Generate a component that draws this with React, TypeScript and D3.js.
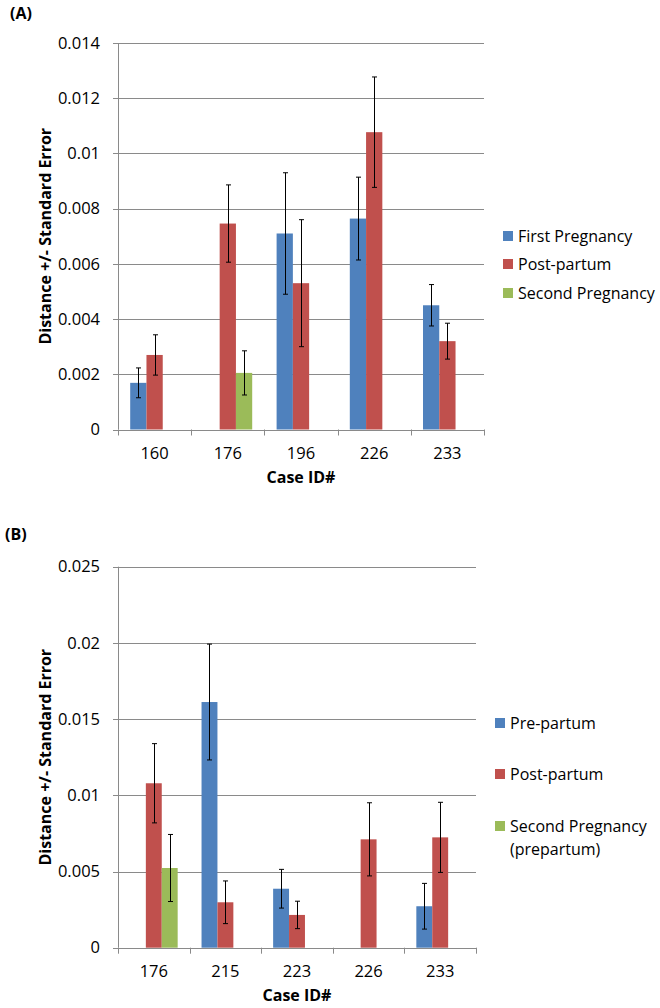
import React from "react";
import * as d3 from "d3";

// ---------- Data ----------
const casesA = ["160", "176", "196", "226", "233"];
const seriesA = ["First Pregnancy", "Post-partum", "Second Pregnancy"];
const firstPregA = [0.00169, null, 0.0071, 0.00764, 0.0045];
const firstPregErrA = [0.00054, null, 0.0022, 0.0015, 0.00075];
const postPartumA = [0.0027, 0.00746, 0.0053, 0.01077, 0.0032];
const postPartumErrA = [0.00073, 0.0014, 0.0023, 0.002, 0.00065];
const secondPregA = [null, 0.00205, null, null, null];
const secondPregErrA = [null, 0.0008, null, null, null];
const ticksA = [0, 0.002, 0.004, 0.006, 0.008, 0.01, 0.012, 0.014];

const casesB = ["176", "215", "223", "226", "233"];
const seriesB = ["Pre-partum", "Post-partum", "Second Pregnancy|(prepartum)"];
const prePartumB = [null, 0.01612, 0.00387, null, 0.00272];
const prePartumErrB = [null, 0.0038, 0.00127, null, 0.0015];
const postPartumB = [0.01079, 0.00298, 0.00215, 0.00711, 0.00724];
const postPartumErrB = [0.0026, 0.0014, 0.0009, 0.0024, 0.0023];
const secondPregB = [0.00523, null, null, null, null];
const secondPregErrB = [0.0022, null, null, null, null];
const ticksB = [0, 0.005, 0.01, 0.015, 0.02, 0.025];

const colors = ["#4F81BD", "#C0504D", "#9BBB59"];
const FONT = "'Open Sans', 'Liberation Sans', sans-serif";
const GRID = "#8a8a8a";

type PanelProps = {
  label: string;
  labelX: number;
  labelY: number;
  cases: string[];
  series: string[];
  values: (number | null)[][];
  errs: (number | null)[][];
  ticks: number[];
  left: number;
  right: number;
  top: number;
  bottom: number;
  legendX: number;
  legendRows: number[];
};

function Panel(p: PanelProps) {
  const y = d3.scaleLinear().domain([0, p.ticks[p.ticks.length - 1]]).range([p.bottom, p.top]);
  const x0 = d3.scaleBand().domain(p.cases).range([p.left, p.right]).padding(0);
  const bw = x0.bandwidth();
  const barW = bw / 4.5;
  const x1 = d3
    .scaleBand()
    .domain(p.series)
    .range([(bw - 3 * barW) / 2, (bw + 3 * barW) / 2])
    .padding(0);
  const cap = 2.5;
  return (
    <g>
      <text x={p.labelX} y={p.labelY} fontFamily={FONT} fontWeight="bold" fontSize={16} fill="#000">
        {p.label}
      </text>
      {/* gridlines */}
      {p.ticks.map((t, i) => (
        <g key={"g" + i}>
          {i > 0 && (
            <line x1={p.left} x2={p.right} y1={Math.round(y(t)) + 0.5} y2={Math.round(y(t)) + 0.5} stroke={GRID} strokeWidth={1} />
          )}
          <line x1={p.left - 5} x2={p.left} y1={Math.round(y(t)) + 0.5} y2={Math.round(y(t)) + 0.5} stroke={GRID} strokeWidth={1} />
          <text x={p.left - 18} y={y(t)} dy="0.35em" textAnchor="end" fontFamily={FONT} fontSize={16.5} fill="#000">
            {String(t)}
          </text>
        </g>
      ))}
      {/* bars */}
      {p.values.map((vals, si) =>
        vals.map((v, ci) =>
          v == null ? null : (
            <rect
              key={`b${si}-${ci}`}
              x={(x0(p.cases[ci]) as number) + (x1(p.series[si]) as number)}
              y={y(v)}
              width={barW}
              height={p.bottom - y(v)}
              fill={colors[si]}
            />
          )
        )
      )}
      {/* error bars */}
      {p.values.map((vals, si) =>
        vals.map((v, ci) => {
          const e = p.errs[si][ci];
          if (v == null || e == null) return null;
          const cx = Math.round((x0(p.cases[ci]) as number) + (x1(p.series[si]) as number) + barW / 2) + 0.5;
          const yt = y(v + e);
          const yb = y(v - e);
          return (
            <g key={`e${si}-${ci}`} stroke="#000" strokeWidth={1}>
              <line x1={cx} x2={cx} y1={yt} y2={yb} />
              <line x1={cx - cap} x2={cx + cap} y1={yt} y2={yt} />
              <line x1={cx - cap} x2={cx + cap} y1={yb} y2={yb} />
            </g>
          );
        })
      )}
      {/* axes */}
      <line x1={p.left + 0.5} x2={p.left + 0.5} y1={p.top} y2={p.bottom} stroke={GRID} strokeWidth={1} />
      <line x1={p.left} x2={p.right} y1={Math.round(p.bottom) + 0.5} y2={Math.round(p.bottom) + 0.5} stroke={GRID} strokeWidth={1} />
      {[p.left, ...p.cases.map((c) => (x0(c) as number) + bw)].map((xx, i) => (
        <line key={"t" + i} x1={Math.round(xx) + 0.5} x2={Math.round(xx) + 0.5} y1={p.bottom} y2={p.bottom + 6} stroke={GRID} strokeWidth={1} />
      ))}
      {p.cases.map((c) => (
        <text key={"xl" + c} x={(x0(c) as number) + bw / 2} y={p.bottom + 24} dy="0.35em" textAnchor="middle" fontFamily={FONT} fontSize={16.5} fill="#000">
          {c}
        </text>
      ))}
      <text x={(p.left + p.right) / 2} y={p.bottom + 48} dy="0.35em" textAnchor="middle" fontFamily={FONT} fontWeight="bold" fontSize={16} fill="#000">
        Case ID#
      </text>
      <text
        transform={`translate(45,${(p.top + p.bottom) / 2}) rotate(-90)`}
        dy="0.35em"
        textAnchor="middle"
        fontFamily={FONT}
        fontWeight="bold"
        fontSize={16}
        fill="#000"
      >
        Distance +/- Standard Error
      </text>
      {/* legend */}
      {p.series.map((s, i) => {
        const lines = s.split("|");
        const cy = p.legendRows[i];
        return (
          <g key={"lg" + i}>
            <rect x={p.legendX} y={cy - 5} width={10} height={10} fill={colors[i]} />
            {lines.map((ln, j) => (
              <text key={j} x={p.legendX + 15} y={cy + j * 23} dy="0.35em" fontFamily={FONT} fontSize={16} fill="#000">
                {ln}
              </text>
            ))}
          </g>
        );
      })}
    </g>
  );
}

export default function App() {
  return (
    <svg width={660} height={1008} style={{ position: "absolute", left: 0, top: 0, background: "#fff" }}>
      <rect width={660} height={1008} fill="#fff" />
      <Panel
        label="(A)"
        labelX={10}
        labelY={19}
        cases={casesA}
        series={seriesA}
        values={[firstPregA, postPartumA, secondPregA]}
        errs={[firstPregErrA, postPartumErrA, secondPregErrA]}
        ticks={ticksA}
        left={118}
        right={484}
        top={43}
        bottom={429.5}
        legendX={503}
        legendRows={[236, 264, 293]}
      />
      <Panel
        label="(B)"
        labelX={5}
        labelY={540}
        cases={casesB}
        series={seriesB}
        values={[prePartumB, postPartumB, secondPregB]}
        errs={[prePartumErrB, postPartumErrB, secondPregErrB]}
        ticks={ticksB}
        left={118}
        right={476}
        top={566.7}
        bottom={947.7}
        legendX={495}
        legendRows={[723, 774, 826]}
      />
    </svg>
  );
}
